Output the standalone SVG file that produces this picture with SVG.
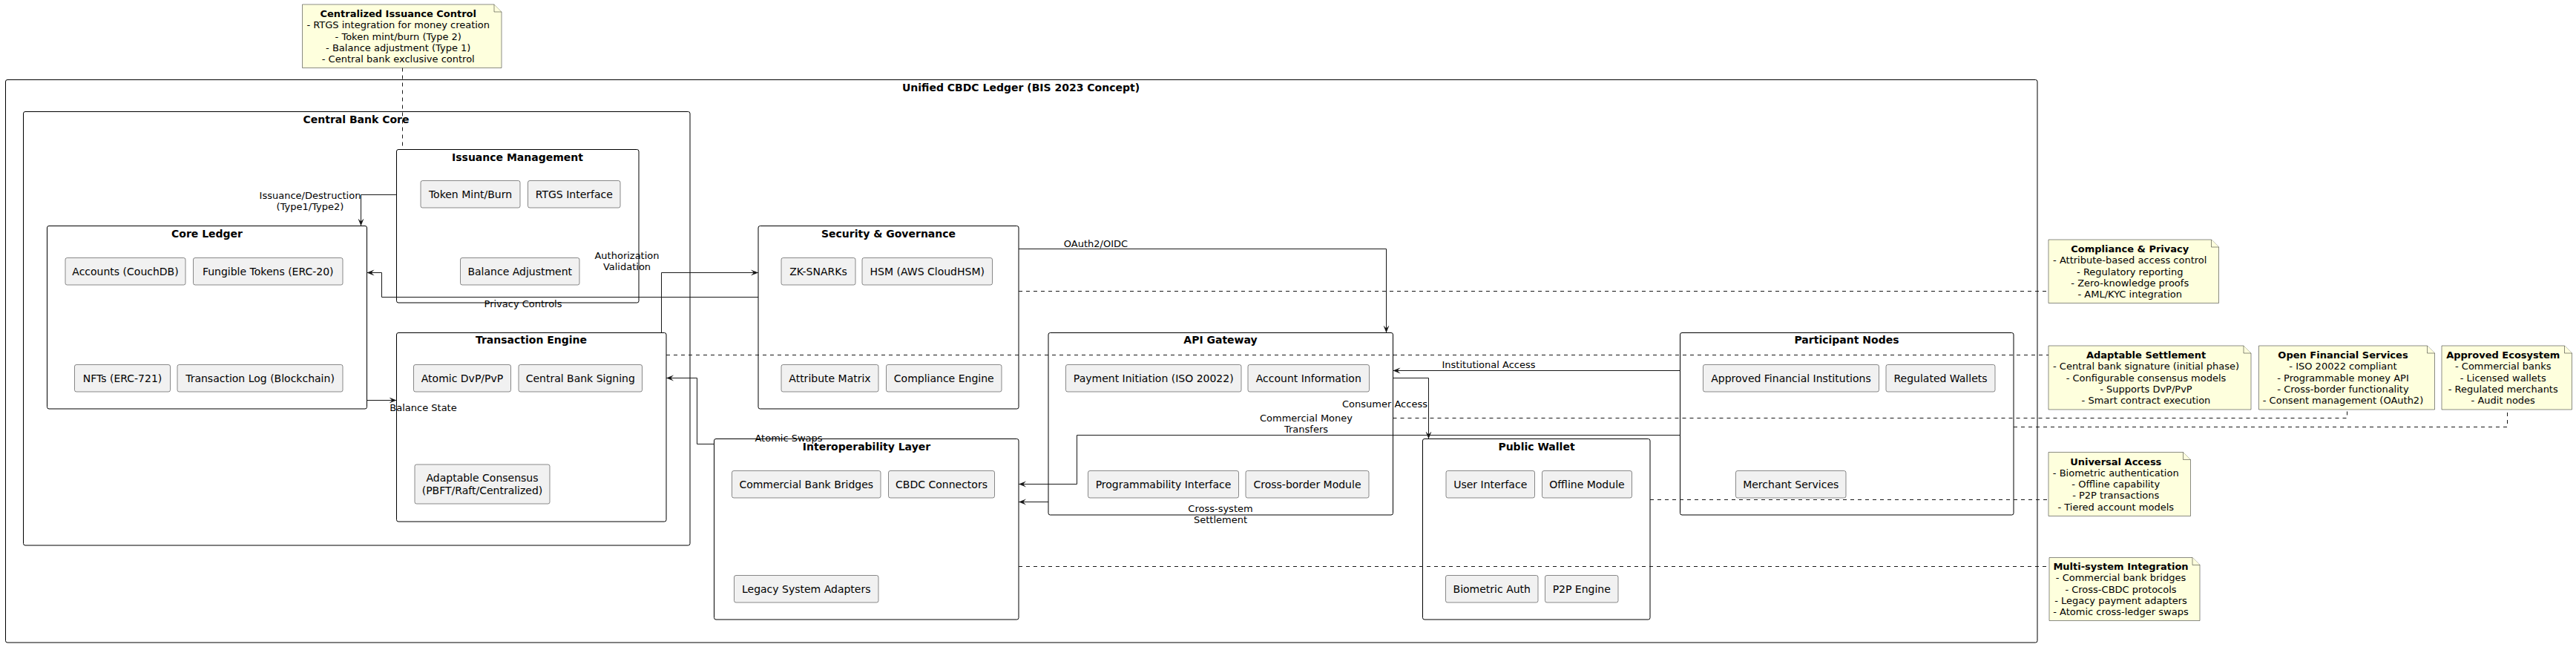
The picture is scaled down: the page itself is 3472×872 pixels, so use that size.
<svg xmlns="http://www.w3.org/2000/svg" width="3472" height="872" viewBox="0 0 3472 872">
<style>
text{font-family:"DejaVu Sans","Liberation Sans",sans-serif;fill:#000}
.frame{fill:none;stroke:#000;stroke-width:1}
.ft{font-size:14px;font-weight:bold;text-anchor:middle}
.comp{fill:#F1F1F1;stroke:#181818;stroke-width:0.5}
.ct{font-size:14px;text-anchor:middle}
.note{fill:#FEFFDD;stroke:#181818;stroke-width:0.5}
.nt{font-size:13px;text-anchor:middle}
.nt .h{font-weight:bold}
.edge{fill:none;stroke:#181818;stroke-width:1}
.dash{fill:none;stroke:#181818;stroke-width:1;stroke-dasharray:5,5}
.el{font-size:13px;text-anchor:middle}
</style>
<defs>
<marker id="arr" markerUnits="userSpaceOnUse" markerWidth="10" markerHeight="10" viewBox="0 0 10 10" refX="10" refY="5" orient="auto">
<path d="M0,1 L10,5 L0,9 L4,5 Z" fill="#181818"/>
</marker>
</defs>
<rect width="3472" height="872" fill="#fff"/>

<g id="unified-cbdc-ledger">
<rect class="frame" x="7.5" y="107.5" width="2738.5" height="758.5" rx="2.5"/>
<text class="ft" x="1376" y="123">Unified CBDC Ledger (BIS 2023 Concept)</text>
</g>

<g id="central-bank-core">
<rect class="frame" x="31.5" y="150.5" width="898.5" height="584.5" rx="2.5"/>
<text class="ft" x="480" y="166">Central Bank Core</text>
</g>

<g id="issuance-management">
<rect class="frame" x="534.5" y="201.5" width="326.5" height="206.5" rx="2.5"/>
<text class="ft" x="697.5" y="217">Issuance Management</text>
<g id="token-mint-burn"><rect class="comp" x="567" y="243.5" width="134" height="36.5" rx="2.5"/><text class="ct" x="634" y="267">Token Mint/Burn</text></g>
<g id="rtgs-interface"><rect class="comp" x="711.5" y="243.5" width="124.5" height="36.5" rx="2.5"/><text class="ct" x="773.75" y="267">RTGS Interface</text></g>
<g id="balance-adjustment"><rect class="comp" x="620.5" y="347.5" width="160.5" height="36.5" rx="2.5"/><text class="ct" x="700.75" y="371">Balance Adjustment</text></g>
</g>

<g id="core-ledger">
<rect class="frame" x="63.5" y="304.5" width="431" height="246.5" rx="2.5"/>
<text class="ft" x="279" y="320">Core Ledger</text>
<g id="accounts"><rect class="comp" x="88" y="347.5" width="162" height="36.5" rx="2.5"/><text class="ct" x="169" y="371">Accounts (CouchDB)</text></g>
<g id="fungible-tokens"><rect class="comp" x="260.5" y="347.5" width="201.5" height="36.5" rx="2.5"/><text class="ct" x="361.25" y="371">Fungible Tokens (ERC-20)</text></g>
<g id="nfts"><rect class="comp" x="100.5" y="491.5" width="129" height="36.5" rx="2.5"/><text class="ct" x="165" y="515">NFTs (ERC-721)</text></g>
<g id="transaction-log"><rect class="comp" x="239" y="491.5" width="223" height="36.5" rx="2.5"/><text class="ct" x="350.5" y="515">Transaction Log (Blockchain)</text></g>
</g>

<g id="transaction-engine">
<rect class="frame" x="534.5" y="448.5" width="363.5" height="254.5" rx="2.5"/>
<text class="ft" x="716" y="463">Transaction Engine</text>
<g id="atomic-dvp-pvp"><rect class="comp" x="557.5" y="491.5" width="131" height="36.5" rx="2.5"/><text class="ct" x="623" y="515">Atomic DvP/PvP</text></g>
<g id="central-bank-signing"><rect class="comp" x="699" y="491.5" width="166.5" height="36.5" rx="2.5"/><text class="ct" x="782.25" y="515">Central Bank Signing</text></g>
<g id="adaptable-consensus"><rect class="comp" x="559" y="626" width="182" height="53" rx="2.5"/><text class="ct" x="650" y="649">Adaptable Consensus<tspan x="650" dy="17">(PBFT/Raft/Centralized)</tspan></text></g>
</g>

<g id="security-governance">
<rect class="frame" x="1022" y="304.5" width="351" height="246.5" rx="2.5"/>
<text class="ft" x="1197.5" y="320">Security &amp; Governance</text>
<g id="zk-snarks"><rect class="comp" x="1053" y="347.5" width="100" height="36.5" rx="2.5"/><text class="ct" x="1103" y="371">ZK-SNARKs</text></g>
<g id="hsm"><rect class="comp" x="1162" y="347.5" width="175.5" height="36.5" rx="2.5"/><text class="ct" x="1249.75" y="371">HSM (AWS CloudHSM)</text></g>
<g id="attribute-matrix"><rect class="comp" x="1053" y="491.5" width="131" height="36.5" rx="2.5"/><text class="ct" x="1118.5" y="515">Attribute Matrix</text></g>
<g id="compliance-engine"><rect class="comp" x="1194.5" y="491.5" width="155.5" height="36.5" rx="2.5"/><text class="ct" x="1272.25" y="515">Compliance Engine</text></g>
</g>

<g id="api-gateway">
<rect class="frame" x="1413" y="448.5" width="464.5" height="245.5" rx="2.5"/>
<text class="ft" x="1645" y="463">API Gateway</text>
<g id="payment-initiation"><rect class="comp" x="1436.5" y="491.5" width="236.5" height="36.5" rx="2.5"/><text class="ct" x="1554.75" y="515">Payment Initiation (ISO 20022)</text></g>
<g id="account-information"><rect class="comp" x="1682" y="491.5" width="163.5" height="36.5" rx="2.5"/><text class="ct" x="1763.75" y="515">Account Information</text></g>
<g id="programmability-interface"><rect class="comp" x="1466.5" y="634.5" width="203" height="36.5" rx="2.5"/><text class="ct" x="1568" y="658">Programmability Interface</text></g>
<g id="cross-border-module"><rect class="comp" x="1679" y="634.5" width="166" height="36.5" rx="2.5"/><text class="ct" x="1762" y="658">Cross-border Module</text></g>
</g>

<g id="participant-nodes">
<rect class="frame" x="2264.5" y="448.5" width="449.5" height="245.5" rx="2.5"/>
<text class="ft" x="2489" y="463">Participant Nodes</text>
<g id="approved-fi"><rect class="comp" x="2295.5" y="491.5" width="237" height="36.5" rx="2.5"/><text class="ct" x="2414" y="515">Approved Financial Institutions</text></g>
<g id="regulated-wallets"><rect class="comp" x="2542" y="491.5" width="147" height="36.5" rx="2.5"/><text class="ct" x="2615.5" y="515">Regulated Wallets</text></g>
<g id="merchant-services"><rect class="comp" x="2339.5" y="634.5" width="148.5" height="36.5" rx="2.5"/><text class="ct" x="2413.75" y="658">Merchant Services</text></g>
</g>

<g id="interoperability-layer">
<rect class="frame" x="962.5" y="591.5" width="410.5" height="243.5" rx="2.5"/>
<text class="ft" x="1168" y="607">Interoperability Layer</text>
<g id="commercial-bank-bridges"><rect class="comp" x="986.5" y="634.5" width="200.5" height="36.5" rx="2.5"/><text class="ct" x="1086.75" y="658">Commercial Bank Bridges</text></g>
<g id="cbdc-connectors"><rect class="comp" x="1197.5" y="634.5" width="143" height="36.5" rx="2.5"/><text class="ct" x="1269" y="658">CBDC Connectors</text></g>
<g id="legacy-adapters"><rect class="comp" x="989.5" y="775.5" width="194.5" height="36.5" rx="2.5"/><text class="ct" x="1086.75" y="799">Legacy System Adapters</text></g>
</g>

<g id="public-wallet">
<rect class="frame" x="1917.5" y="591.5" width="306.5" height="243.5" rx="2.5"/>
<text class="ft" x="2071" y="607">Public Wallet</text>
<g id="user-interface"><rect class="comp" x="1949" y="634.5" width="119.5" height="36.5" rx="2.5"/><text class="ct" x="2008.75" y="658">User Interface</text></g>
<g id="offline-module"><rect class="comp" x="2078.5" y="634.5" width="121" height="36.5" rx="2.5"/><text class="ct" x="2139" y="658">Offline Module</text></g>
<g id="biometric-auth"><rect class="comp" x="1948.5" y="775.5" width="124.5" height="36.5" rx="2.5"/><text class="ct" x="2010.75" y="799">Biometric Auth</text></g>
<g id="p2p-engine"><rect class="comp" x="2082.5" y="775.5" width="98.5" height="36.5" rx="2.5"/><text class="ct" x="2131.75" y="799">P2P Engine</text></g>
</g>

<g id="note-centralized">
<path class="note" d="M407.5,6 L407.5,91.5 L676,91.5 L676,16 L666,6 Z"/>
<path class="note" d="M666,6 L666,16 L676,16" fill="none"/>
<text class="nt" x="536.75" y="23"><tspan class="h">Centralized Issuance Control</tspan><tspan x="536.75" dy="15.3">- RTGS integration for money creation</tspan><tspan x="536.75" dy="15.3">- Token mint/burn (Type 2)</tspan><tspan x="536.75" dy="15.3">- Balance adjustment (Type 1)</tspan><tspan x="536.75" dy="15.3">- Central bank exclusive control</tspan></text>
</g>

<g id="note-compliance">
<path class="note" d="M2761,323 L2761,408.5 L2990.5,408.5 L2990.5,333 L2980.5,323 Z"/>
<path class="note" d="M2980.5,323 L2980.5,333 L2990.5,333" fill="none"/>
<text class="nt" x="2870.75" y="340"><tspan class="h">Compliance &amp; Privacy</tspan><tspan x="2870.75" dy="15.3">- Attribute-based access control</tspan><tspan x="2870.75" dy="15.3">- Regulatory reporting</tspan><tspan x="2870.75" dy="15.3">- Zero-knowledge proofs</tspan><tspan x="2870.75" dy="15.3">- AML/KYC integration</tspan></text>
</g>

<g id="note-adaptable">
<path class="note" d="M2761,466 L2761,552 L3034,552 L3034,476 L3024,466 Z"/>
<path class="note" d="M3024,466 L3024,476 L3034,476" fill="none"/>
<text class="nt" x="2892.5" y="483"><tspan class="h">Adaptable Settlement</tspan><tspan x="2892.5" dy="15.3">- Central bank signature (initial phase)</tspan><tspan x="2892.5" dy="15.3">- Configurable consensus models</tspan><tspan x="2892.5" dy="15.3">- Supports DvP/PvP</tspan><tspan x="2892.5" dy="15.3">- Smart contract execution</tspan></text>
</g>

<g id="note-open-financial">
<path class="note" d="M3044.5,466 L3044.5,552 L3281.5,552 L3281.5,476 L3271.5,466 Z"/>
<path class="note" d="M3271.5,466 L3271.5,476 L3281.5,476" fill="none"/>
<text class="nt" x="3158" y="483"><tspan class="h">Open Financial Services</tspan><tspan x="3158" dy="15.3">- ISO 20022 compliant</tspan><tspan x="3158" dy="15.3">- Programmable money API</tspan><tspan x="3158" dy="15.3">- Cross-border functionality</tspan><tspan x="3158" dy="15.3">- Consent management (OAuth2)</tspan></text>
</g>

<g id="note-approved">
<path class="note" d="M3291,466 L3291,552 L3466.5,552 L3466.5,476 L3456.5,466 Z"/>
<path class="note" d="M3456.5,466 L3456.5,476 L3466.5,476" fill="none"/>
<text class="nt" x="3373.75" y="483"><tspan class="h">Approved Ecosystem</tspan><tspan x="3373.75" dy="15.3">- Commercial banks</tspan><tspan x="3373.75" dy="15.3">- Licensed wallets</tspan><tspan x="3373.75" dy="15.3">- Regulated merchants</tspan><tspan x="3373.75" dy="15.3">- Audit nodes</tspan></text>
</g>

<g id="note-universal">
<path class="note" d="M2761,609.5 L2761,695.5 L2952.5,695.5 L2952.5,619.5 L2942.5,609.5 Z"/>
<path class="note" d="M2942.5,609.5 L2942.5,619.5 L2952.5,619.5" fill="none"/>
<text class="nt" x="2851.75" y="626.5"><tspan class="h">Universal Access</tspan><tspan x="2851.75" dy="15.3">- Biometric authentication</tspan><tspan x="2851.75" dy="15.3">- Offline capability</tspan><tspan x="2851.75" dy="15.3">- P2P transactions</tspan><tspan x="2851.75" dy="15.3">- Tiered account models</tspan></text>
</g>

<g id="note-multisystem">
<path class="note" d="M2762,751.5 L2762,836.5 L2965,836.5 L2965,761.5 L2955,751.5 Z"/>
<path class="note" d="M2955,751.5 L2955,761.5 L2965,761.5" fill="none"/>
<text class="nt" x="2858.5" y="768"><tspan class="h">Multi-system Integration</tspan><tspan x="2858.5" dy="15.3">- Commercial bank bridges</tspan><tspan x="2858.5" dy="15.3">- Cross-CBDC protocols</tspan><tspan x="2858.5" dy="15.3">- Legacy payment adapters</tspan><tspan x="2858.5" dy="15.3">- Atomic cross-ledger swaps</tspan></text>
</g>

<g id="connectors">
<path class="edge" d="M534.5,262.5 L486.5,262.5 L486.5,304.5" marker-end="url(#arr)"/>
<text class="el" x="418" y="267.5">Issuance/Destruction<tspan x="418" dy="15.5">(Type1/Type2)</tspan></text>

<path class="edge" d="M891.5,448.5 L891.5,367.5 L1022,367.5" marker-end="url(#arr)"/>
<text class="el" x="845" y="348.5">Authorization<tspan x="845" dy="15">Validation</tspan></text>

<path class="edge" d="M1022,400.5 L514.5,400.5 L514.5,367.5 L494.5,367.5" marker-end="url(#arr)"/>
<text class="el" x="705" y="413.5">Privacy Controls</text>

<path class="edge" d="M494.5,539.5 L534.5,539.5" marker-end="url(#arr)"/>
<text class="el" x="570.5" y="553.5">Balance State</text>

<path class="edge" d="M1373,335.5 L1868.5,335.5 L1868.5,448.5" marker-end="url(#arr)"/>
<text class="el" x="1477" y="332.5">OAuth2/OIDC</text>

<path class="edge" d="M962.5,598.5 L939.5,598.5 L939.5,509.5 L898,509.5" marker-end="url(#arr)"/>
<text class="el" x="1063" y="594.5">Atomic Swaps</text>

<path class="edge" d="M2264.5,499.5 L1877.5,499.5" marker-end="url(#arr)"/>
<text class="el" x="2006.5" y="495.5">Institutional Access</text>

<path class="edge" d="M1877.5,509.5 L1925.5,509.5 L1925.5,591.5" marker-end="url(#arr)"/>
<text class="el" x="1866.5" y="548.5">Consumer Access</text>

<path class="edge" d="M2264.5,586.5 L1451.5,586.5 L1451.5,652.5 L1373,652.5" marker-end="url(#arr)"/>
<text class="el" x="1760.5" y="568">Commercial Money<tspan x="1760.5" dy="14.5">Transfers</tspan></text>

<path class="edge" d="M1413,676.5 L1373,676.5" marker-end="url(#arr)"/>
<text class="el" x="1645" y="690">Cross-system<tspan x="1645" dy="14.5">Settlement</tspan></text>

<path class="dash" d="M542.5,91.5 L542.5,201.5"/>
<path class="dash" d="M1373,392.5 L2761,392.5"/>
<path class="dash" d="M898,478.5 L2761,478.5"/>
<path class="dash" d="M1877.5,563.5 L3163.5,563.5 L3163.5,552"/>
<path class="dash" d="M2714,575.5 L3379.5,575.5 L3379.5,552"/>
<path class="dash" d="M2224,673.5 L2761,673.5"/>
<path class="dash" d="M1373,763.5 L2762,763.5"/>
</g>
</svg>
